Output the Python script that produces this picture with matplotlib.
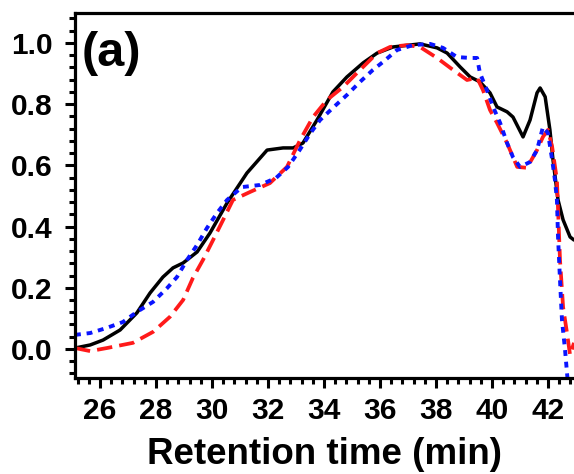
import matplotlib
matplotlib.use("Agg")
import matplotlib.pyplot as plt
from matplotlib.ticker import MultipleLocator

plt.rcParams['font.family'] = ['Liberation Sans', 'DejaVu Sans']
plt.rcParams['font.weight'] = 'bold'

# black solid curve
t_black = [25.11, 25.65, 26.11, 26.72, 27.32, 27.79, 28.25, 28.61, 28.97, 29.47,
           29.93, 30.54, 31.25, 31.97, 32.54, 32.90, 33.25, 33.75, 34.32, 34.82,
           35.40, 35.90, 36.47, 37.43, 38.04, 38.40, 38.86, 39.22, 39.57, 39.93,
           40.18, 40.54, 40.75, 41.11, 41.36, 41.61, 41.72, 41.90, 42.07, 42.18,
           42.36, 42.54, 42.79, 42.93]
y_black = [0.003, 0.013, 0.029, 0.062, 0.118, 0.183, 0.235, 0.265, 0.281, 0.317,
           0.379, 0.477, 0.575, 0.650, 0.657, 0.657, 0.673, 0.748, 0.840, 0.889,
           0.935, 0.967, 0.987, 0.997, 0.984, 0.967, 0.922, 0.889, 0.873, 0.837,
           0.791, 0.775, 0.758, 0.693, 0.748, 0.837, 0.853, 0.824, 0.716, 0.618,
           0.487, 0.422, 0.366, 0.356]

# red dashed curve
t_red = [25.11, 25.65, 26.25, 27.18, 27.90, 28.50, 28.97, 29.32, 29.68, 30.04,
         30.40, 30.75, 31.36, 32.07, 32.68, 33.15, 33.61, 34.11, 34.68, 35.29,
         35.90, 36.36, 36.97, 37.43, 38.04, 38.61, 39.11, 39.47, 39.68, 39.93,
         40.18, 40.54, 40.90, 41.25, 41.61, 41.82, 42.00, 42.15, 42.32, 42.43,
         42.54, 42.68, 42.79, 42.93]
y_red = [0.003, -0.007, 0.003, 0.020, 0.056, 0.105, 0.160, 0.232, 0.291, 0.356,
         0.422, 0.487, 0.513, 0.542, 0.595, 0.683, 0.758, 0.814, 0.856, 0.912,
         0.967, 0.987, 0.993, 0.987, 0.951, 0.912, 0.879, 0.886, 0.846, 0.781,
         0.739, 0.673, 0.595, 0.592, 0.650, 0.693, 0.716, 0.660, 0.552, 0.291,
         0.137, 0.052, -0.020, 0.020]

# blue dotted curve
t_blue = [25.11, 25.65, 26.25, 26.82, 27.32, 27.90, 28.40, 28.75, 29.11, 29.47,
          29.82, 30.18, 30.54, 31.07, 31.72, 32.29, 32.72, 33.11, 33.50, 33.86,
          34.32, 34.82, 35.29, 35.75, 36.11, 36.61, 37.18, 37.79, 38.25, 38.75,
          39.22, 39.47, 39.57, 39.82, 40.04, 40.29, 40.54, 40.75, 41.00, 41.36,
          41.61, 41.82, 42.00, 42.15, 42.25, 42.32, 42.36, 42.43, 42.50, 42.61,
          42.68, 42.75]
y_blue = [0.046, 0.052, 0.069, 0.088, 0.121, 0.154, 0.199, 0.235, 0.291, 0.340,
          0.395, 0.444, 0.487, 0.529, 0.536, 0.559, 0.595, 0.647, 0.703, 0.748,
          0.788, 0.830, 0.873, 0.912, 0.938, 0.977, 0.993, 0.997, 0.984, 0.954,
          0.951, 0.951, 0.902, 0.846, 0.791, 0.739, 0.673, 0.627, 0.595, 0.611,
          0.650, 0.725, 0.706, 0.618, 0.552, 0.487, 0.366, 0.225, 0.095, -0.003,
          -0.078, -0.150]

fig = plt.figure(figsize=(5.74, 4.74), dpi=100)
ax = fig.add_axes([0.1307, 0.2025, 0.8693, 0.7701])

ax.plot(t_black, y_black, color='black', lw=2.5, solid_capstyle='round')
ax.plot(t_red, y_red, color='#ff1a1a', lw=2.7, dashes=(4.1, 1.9))
ax.plot(t_blue, y_blue, color='#0a14ff', lw=2.8, dashes=(1.5, 1.5))

ax.set_xlim(25.11, 42.93)
ax.set_ylim(-0.095, 1.098)

ax.xaxis.set_major_locator(MultipleLocator(2))
ax.xaxis.set_minor_locator(MultipleLocator(0.4))
ax.yaxis.set_major_locator(MultipleLocator(0.2))
ax.yaxis.set_minor_locator(MultipleLocator(0.04))
ax.yaxis.set_major_formatter(plt.FormatStrFormatter('%.1f'))

for s in ['left', 'bottom', 'top']:
    ax.spines[s].set_linewidth(2.3)
ax.spines['right'].set_visible(False)

ax.tick_params(axis='both', which='major', direction='out', length=7, width=2.2,
               labelsize=21.5, top=False, right=False)
ax.tick_params(axis='both', which='minor', direction='out', length=4.5, width=2.2,
               top=False, right=False)
ax.tick_params(axis='y', which='major', pad=9)
ax.tick_params(axis='x', which='major', pad=7)

ax.set_xlabel('Retention time (min)', fontsize=26.5, fontweight='bold', labelpad=8)
ax.text(0.014, 0.888, '(a)', transform=ax.transAxes, fontsize=35,
        fontweight='bold', ha='left', va='center')

fig.savefig('out.png', dpi=100)
